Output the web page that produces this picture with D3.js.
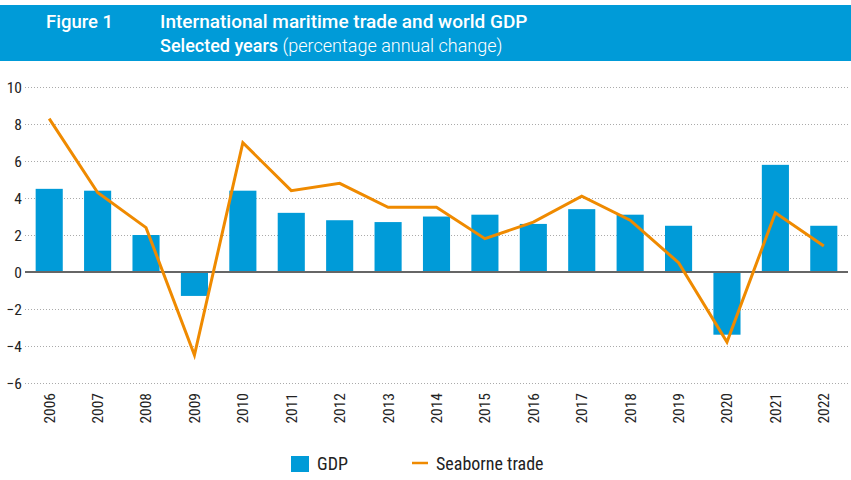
<!DOCTYPE html>
<html>
<head>
<meta charset="utf-8">
<script src="https://cdn.jsdelivr.net/npm/d3@7"></script>
<style>
    body { margin: 0; background: #fff; }
    svg { display: block; }
    .hdr { fill: #fff; font-family: Roboto, "Liberation Sans", sans-serif; }
    .cond { font-family: "Roboto Condensed", "Liberation Sans Narrow", "DejaVu Sans Condensed", Roboto, sans-serif; fill: #222; }
</style>
</head>
<body>
<script>
(function () {

    var years = ["2006", "2007", "2008", "2009", "2010", "2011", "2012", "2013", "2014",
        "2015", "2016", "2017", "2018", "2019", "2020", "2021", "2022"];
    var gdp = [4.5, 4.4, 2.0, -1.3, 4.4, 3.2, 2.8, 2.7, 3.0, 3.1, 2.6, 3.4, 3.1, 2.5, -3.4, 5.8, 2.5];
    var seaborne = [8.3, 4.3, 2.4, -4.5, 7.0, 4.4, 4.8, 3.5, 3.5, 1.8, 2.7, 4.1, 2.8, 0.5, -3.8, 3.2, 1.4];
    var yTicks = [-6, -4, -2, 0, 2, 4, 6, 8, 10];

    var width = 851,
        height = 480;

    var blue = "#009bd8",
        orange = "#ef8a00";

    var svg = d3.select("body")
        .append("svg")
        .attr("width", width)
        .attr("height", height);

    //header band
    svg.append("rect")
        .attr("x", 0)
        .attr("y", 5)
        .attr("width", width)
        .attr("height", 56)
        .attr("fill", "#009bd8");

    svg.append("text")
        .attr("class", "hdr")
        .attr("x", 46)
        .attr("y", 28)
        .style("font-size", "18.5px")
        .style("font-weight", 500)
        .text("Figure 1");

    svg.append("text")
        .attr("class", "hdr")
        .attr("x", 160)
        .attr("y", 28)
        .style("font-size", "19px")
        .style("font-weight", 500)
        .text("International maritime trade and world GDP");

    var line2 = svg.append("text")
        .attr("class", "hdr")
        .attr("x", 160)
        .attr("y", 52)
        .style("font-size", "18px");
    line2.append("tspan").style("font-weight", 500).text("Selected years ");
    line2.append("tspan").style("font-weight", 300).text("(percentage annual change)");

    //scales
    var x = d3.scaleBand()
        .domain(years)
        .range([25, 848])
        .paddingInner(0.44)
        .paddingOuter(0.22);

    var y = d3.scaleLinear()
        .domain([-6, 10])
        .range([382.7, 87.3]);

    //dotted gridlines
    svg.append("g")
        .selectAll("line")
        .data(yTicks.filter(function (d) { return d !== 0; }))
        .enter()
        .append("line")
        .attr("x1", 25)
        .attr("x2", 848)
        .attr("y1", function (d) { return Math.round(y(d)) + 0.5; })
        .attr("y2", function (d) { return Math.round(y(d)) + 0.5; })
        .attr("stroke", "#aaa")
        .attr("stroke-width", 1)
        .attr("stroke-dasharray", "1,2");

    //y axis labels
    var yAxis = d3.axisLeft(y)
        .tickValues(yTicks)
        .tickSize(0)
        .tickPadding(0)
        .tickFormat(d3.format("d"));

    var yG = svg.append("g")
        .attr("transform", "translate(22,0)")
        .call(yAxis);
    yG.select(".domain").remove();
    yG.selectAll("text")
        .attr("class", "cond")
        .attr("dy", "0.35em")
        .style("font-size", "15.5px");

    //bars
    svg.append("g")
        .selectAll("rect")
        .data(years)
        .enter()
        .append("rect")
        .attr("x", function (d) { return x(d); })
        .attr("width", x.bandwidth())
        .attr("y", function (d, i) { return Math.min(y(gdp[i]), y(0)); })
        .attr("height", function (d, i) { return Math.abs(y(gdp[i]) - y(0)); })
        .attr("fill", blue);

    //zero line
    svg.append("line")
        .attr("x1", 25)
        .attr("x2", 848)
        .attr("y1", y(0))
        .attr("y2", y(0))
        .attr("stroke", "#666")
        .attr("stroke-width", 2);

    //seaborne trade line
    var line = d3.line()
        .x(function (d, i) { return x(years[i]) + x.bandwidth() / 2; })
        .y(function (d) { return y(d); });

    svg.append("path")
        .datum(seaborne)
        .attr("d", line)
        .attr("fill", "none")
        .attr("stroke", orange)
        .attr("stroke-width", 3)
        .attr("stroke-linejoin", "miter");

    //x axis labels, rotated
    var xAxis = d3.axisBottom(x)
        .tickSize(0)
        .tickPadding(0);

    var xG = svg.append("g")
        .attr("transform", "translate(0,393)")
        .call(xAxis);
    xG.select(".domain").remove();
    xG.selectAll("text")
        .attr("class", "cond")
        .style("font-size", "15.5px")
        .attr("text-anchor", "end")
        .attr("transform", "rotate(-90)")
        .attr("x", 0)
        .attr("y", 0)
        .attr("dy", "0.35em");

    //legend
    var legend = svg.append("g");
    legend.append("rect")
        .attr("x", 291)
        .attr("y", 456)
        .attr("width", 18)
        .attr("height", 16)
        .attr("fill", blue);
    legend.append("text")
        .attr("class", "cond")
        .attr("x", 317)
        .attr("y", 470)
        .style("font-size", "18px")
        .text("GDP");
    legend.append("line")
        .attr("x1", 412)
        .attr("x2", 428)
        .attr("y1", 463)
        .attr("y2", 463)
        .attr("stroke", orange)
        .attr("stroke-width", 2.5);
    legend.append("text")
        .attr("class", "cond")
        .attr("x", 436)
        .attr("y", 470)
        .style("font-size", "18px")
        .text("Seaborne trade");
})();
</script>
</body>
</html>
